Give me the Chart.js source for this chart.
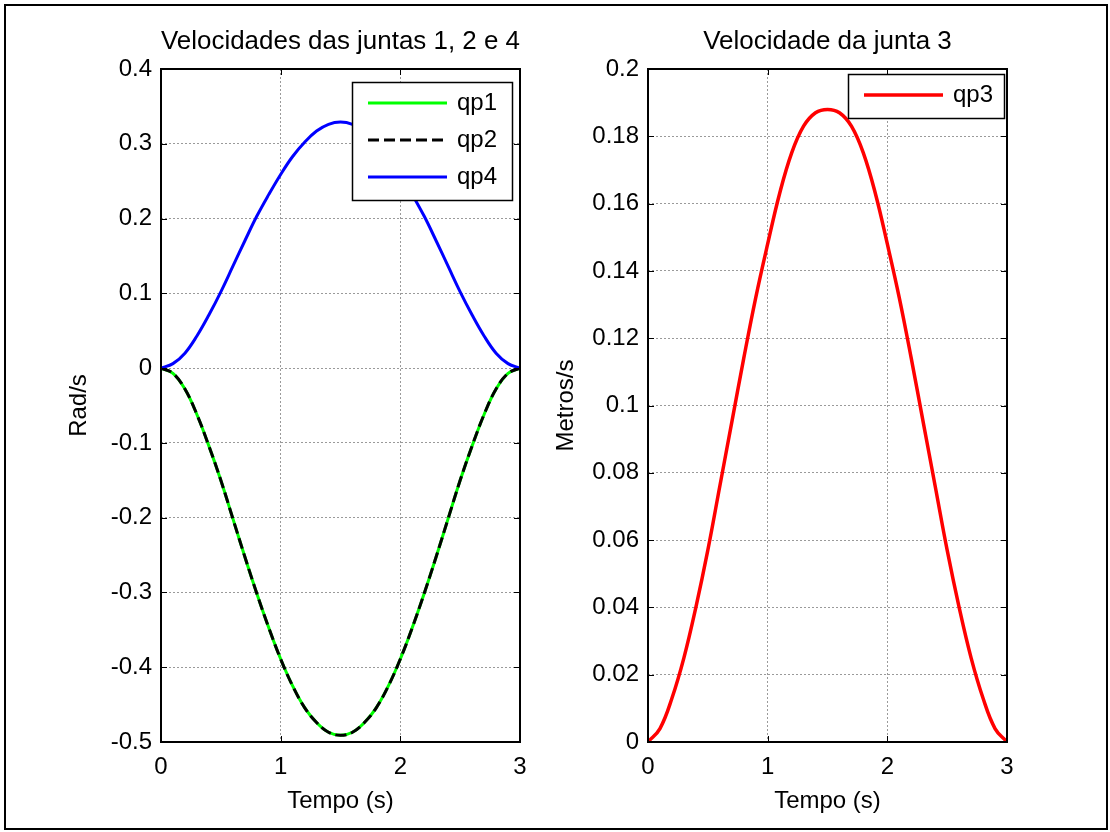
<!DOCTYPE html>
<html>
<head>
<meta charset="utf-8">
<title>Velocidades das juntas</title>
<script src="https://cdn.jsdelivr.net/npm/chart.js@4.4.1/dist/chart.umd.min.js"></script>
<style>
  body { margin: 0; background: #fff; }
  #frame { position: absolute; left: 4px; top: 4px; width: 1104px; height: 826px; box-sizing: border-box; border: 2px solid #000; }
  canvas { position: absolute; top: 0; }
  #leftChart { left: 0; }
  #rightChart { left: 540px; }
</style>
</head>
<body>
<div id="frame"></div>
<canvas id="leftChart" width="540" height="832"></canvas>
<canvas id="rightChart" width="570" height="832"></canvas>
<script>
// tempo (s)
const tempo = [0, 0.1, 0.2, 0.3, 0.4, 0.5, 0.6, 0.7, 0.8, 0.9, 1.0, 1.1, 1.2, 1.3, 1.4, 1.5,
  1.6, 1.7, 1.8, 1.9, 2.0, 2.1, 2.2, 2.3, 2.4, 2.5, 2.6, 2.7, 2.8, 2.9, 3.0];

// velocidades
const qp1 = [0, -0.007, -0.028, -0.062, -0.104, -0.150, -0.201, -0.252, -0.301, -0.347, -0.389, -0.425, -0.454, -0.474, -0.487, -0.491,
  -0.487, -0.474, -0.454, -0.425, -0.389, -0.347, -0.301, -0.252, -0.201, -0.150, -0.104, -0.062, -0.028, -0.007, 0];
const qp2 = [0, -0.007, -0.028, -0.062, -0.104, -0.150, -0.201, -0.252, -0.301, -0.347, -0.389, -0.425, -0.454, -0.474, -0.487, -0.491,
  -0.487, -0.474, -0.454, -0.425, -0.389, -0.347, -0.301, -0.252, -0.201, -0.150, -0.104, -0.062, -0.028, -0.007, 0];
const qp4 = [0, 0.006, 0.020, 0.043, 0.071, 0.102, 0.136, 0.170, 0.203, 0.232, 0.259, 0.283, 0.302, 0.317, 0.326, 0.329,
  0.326, 0.317, 0.302, 0.283, 0.259, 0.232, 0.203, 0.170, 0.136, 0.102, 0.071, 0.043, 0.020, 0.006, 0];
const qp3 = [0, 0.004, 0.013, 0.025, 0.040, 0.057, 0.076, 0.095, 0.114, 0.132, 0.148, 0.163, 0.175, 0.183, 0.187, 0.188,
  0.187, 0.183, 0.175, 0.163, 0.148, 0.132, 0.114, 0.095, 0.076, 0.057, 0.040, 0.025, 0.013, 0.004, 0];

const xTicks = [0, 1, 2, 3];
const leftYRange = [-0.5, 0.4, 0.1];
const rightYRange = [0, 0.2, 0.02];

const FONT = '"Liberation Sans", Arial, Helvetica, sans-serif';
Chart.defaults.font.family = FONT;
Chart.defaults.font.size = 24;
Chart.defaults.color = '#000';

function pts(arr) {
  return tempo.map((t, i) => ({ x: t, y: arr[i] }));
}

// caixa do eixo com ticks para dentro, estilo matlab
const boxPlugin = {
  id: 'mBox',
  afterDatasetsDraw(chart) {
    const { ctx, chartArea: a, scales: { x, y } } = chart;
    const tl = 6;
    ctx.save();
    ctx.strokeStyle = '#000';
    ctx.lineWidth = 1;
    ctx.beginPath();
    x.ticks.forEach(t => {
      const px = Math.round(x.getPixelForValue(t.value)) + 0.5;
      ctx.moveTo(px, a.bottom); ctx.lineTo(px, a.bottom - tl);
      ctx.moveTo(px, a.top); ctx.lineTo(px, a.top + tl);
    });
    y.ticks.forEach(t => {
      const py = Math.round(y.getPixelForValue(t.value)) + 0.5;
      ctx.moveTo(a.left, py); ctx.lineTo(a.left + tl, py);
      ctx.moveTo(a.right, py); ctx.lineTo(a.right - tl, py);
    });
    ctx.stroke();
    ctx.lineWidth = 2;
    ctx.strokeRect(a.left, a.top, a.right - a.left, a.bottom - a.top);
    ctx.restore();
  }
};

const legendPlugin = {
  id: 'mLegend',
  afterDraw(chart, args, opts) {
    const { ctx, chartArea: a } = chart;
    const items = chart.data.datasets;
    const w = opts.width;
    const h = 21 + 37 * (items.length - 1) + 23;
    const left = a.right - opts.right - w;
    const top = a.top + opts.top;
    ctx.save();
    ctx.fillStyle = '#fff';
    ctx.fillRect(left, top, w, h);
    ctx.strokeStyle = '#000';
    ctx.lineWidth = 1.5;
    ctx.strokeRect(left + 0.5, top + 0.5, w, h);
    items.forEach((ds, i) => {
      const yy = top + 21 + 37 * i;
      ctx.strokeStyle = ds.borderColor;
      ctx.lineWidth = ds.borderWidth;
      ctx.setLineDash(ds.borderDash || []);
      ctx.beginPath();
      ctx.moveTo(left + 16, yy);
      ctx.lineTo(left + 95, yy);
      ctx.stroke();
      ctx.setLineDash([]);
      ctx.fillStyle = '#000';
      ctx.font = '24px ' + FONT;
      ctx.textAlign = 'left';
      ctx.textBaseline = 'middle';
      ctx.fillText(ds.label, left + 105, yy);
    });
    ctx.restore();
  }
};

function fmt(v) {
  return String(Number(v.toFixed(3)));
}

function makeScales(yRange, yTitle, yWidth, yTitleX) {
  return {
    x: {
      type: 'linear',
      min: 0, max: 3,
      afterBuildTicks: s => { s.ticks = xTicks.map(v => ({ value: v })); },
      afterFit: s => { s.height = 90; },
      ticks: { padding: 11, callback: v => fmt(v) },
      grid: { color: '#9a9a9a', lineWidth: 1, drawTicks: false },
      border: { display: false, dash: [2, 2] },
      title: { display: true, text: 'Tempo (s)', padding: { top: 0, bottom: 16 } }
    },
    y: {
      type: 'linear',
      min: yRange[0], max: yRange[1],
      afterFit: s => { s.width = yWidth; },
      ticks: { stepSize: yRange[2], padding: 9, callback: v => fmt(v) },
      grid: { color: '#9a9a9a', lineWidth: 1, drawTicks: false },
      border: { display: false, dash: [2, 2] },
      title: { display: true, text: yTitle, padding: { top: yTitleX - 14.4, bottom: 0 } }
    }
  };
}

function titleOpts(text) {
  return {
    display: true,
    text: text,
    fullSize: false,
    font: { size: 26, weight: 'normal' },
    color: '#000',
    padding: { top: 26.4, bottom: 11.4 }
  };
}

new Chart(document.getElementById('leftChart'), {
  type: 'line',
  data: {
    datasets: [
      { label: 'qp1', data: pts(qp1), borderColor: '#00ff00', borderWidth: 3, order: 2 },
      { label: 'qp2', data: pts(qp2), borderColor: '#000000', borderWidth: 3, borderDash: [11, 5], order: 1 },
      { label: 'qp4', data: pts(qp4), borderColor: '#0000ff', borderWidth: 3, order: 0 }
    ]
  },
  options: {
    responsive: false,
    animation: false,
    layout: { padding: { left: 0, right: 20, top: 0, bottom: 0 } },
    elements: { point: { radius: 0 }, line: { tension: 0.4, fill: false } },
    scales: makeScales(leftYRange, 'Rad/s', 161, 79),
    plugins: {
      legend: { display: false },
      tooltip: { enabled: false },
      title: titleOpts('Velocidades das juntas 1, 2 e 4'),
      mLegend: { width: 160, right: 8, top: 13 }
    }
  },
  plugins: [boxPlugin, legendPlugin]
});

new Chart(document.getElementById('rightChart'), {
  type: 'line',
  data: {
    datasets: [
      { label: 'qp3', data: pts(qp3), borderColor: '#ff0000', borderWidth: 3.5 }
    ]
  },
  options: {
    responsive: false,
    animation: false,
    layout: { padding: { left: 0, right: 103, top: 0, bottom: 0 } },
    elements: { point: { radius: 0 }, line: { tension: 0.4, fill: false } },
    scales: makeScales(rightYRange, 'Metros/s', 108, 26),
    plugins: {
      legend: { display: false },
      tooltip: { enabled: false },
      title: titleOpts('Velocidade da junta 3'),
      mLegend: { width: 156, right: 3, top: 5 }
    }
  },
  plugins: [boxPlugin, legendPlugin]
});
</script>
</body>
</html>
